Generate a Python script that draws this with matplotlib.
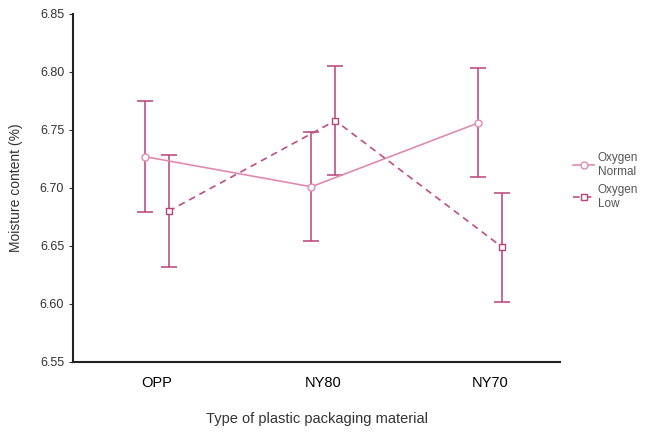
import numpy as np
import matplotlib
matplotlib.use('Agg')
import matplotlib.pyplot as plt

plt.rcParams['font.family'] = ['Liberation Sans', 'DejaVu Sans']

categories = ['OPP', 'NY80', 'NY70']
normal_mean = [6.727, 6.701, 6.756]
normal_err = [0.048, 0.047, 0.047]
low_mean = [6.680, 6.758, 6.649]
low_err = [0.048, 0.047, 0.047]

fig = plt.figure(figsize=(6.66, 4.34), dpi=100)
ax = fig.add_axes([0.110, 0.166, 0.731, 0.802])

x = np.arange(len(categories))
off = 0.072
err_col = '#b8407c'

ax.errorbar(x - off, normal_mean, yerr=normal_err, fmt='none', ecolor=err_col,
            elinewidth=1.1, capsize=6, capthick=1.1, zorder=2)
ax.errorbar(x + off, low_mean, yerr=low_err, fmt='none', ecolor=err_col,
            elinewidth=1.1, capsize=6, capthick=1.1, zorder=2)

ax.plot(x - off, normal_mean, '-', color='#e08ab2', lw=1.2, marker='o', ms=5,
        mfc='white', mec='#e08ab2', label='Oxygen\nNormal', zorder=3)
ax.plot(x + off, low_mean, '--', color='#c04d86', lw=1.2, dashes=(4, 3), marker='s', ms=5,
        mfc='white', mec='#b8407c', label='Oxygen\nLow', zorder=3)

ax.set_xlim(-0.5, 2.42)
ax.set_ylim(6.55, 6.85)
ax.set_yticks([6.55, 6.60, 6.65, 6.70, 6.75, 6.80, 6.85])
ax.set_yticklabels(['6.55', '6.60', '6.65', '6.70', '6.75', '6.80', '6.85'])
ax.set_xticks(x)
ax.set_xticklabels(categories, fontsize=10.5)
ax.tick_params(axis='x', length=0, pad=10)
ax.tick_params(axis='y', length=3, labelsize=9, colors='#333333', direction='out')
for s in ['top', 'right']:
    ax.spines[s].set_visible(False)
for s in ['left', 'bottom']:
    ax.spines[s].set_linewidth(1.5)
    ax.spines[s].set_color('#222222')

ax.set_xlabel('Type of plastic packaging material', fontsize=10.5, color='#333333', labelpad=16)
ax.set_ylabel('Moisture content (%)', fontsize=10, color='#333333', labelpad=12)

leg = ax.legend(loc='center left', bbox_to_anchor=(1.005, 0.52), frameon=False,
                fontsize=8.5, handlelength=1.8, labelspacing=0.55, handletextpad=0.3)
for t in leg.get_texts():
    t.set_color('#555555')

fig.savefig('out.png', dpi=100)
